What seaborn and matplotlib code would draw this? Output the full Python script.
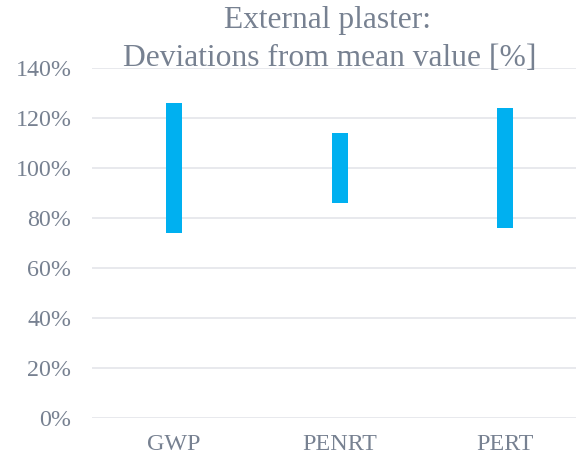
import matplotlib
matplotlib.use("Agg")
import matplotlib.pyplot as plt
import seaborn as sns
import numpy as np
import pandas as pd
from matplotlib.ticker import FuncFormatter

categories = ["GWP", "PENRT", "PERT"]
max_values = [1.26, 1.14, 1.24]
min_values = [0.74, 0.86, 0.76]
y_ticks = [0.0, 0.2, 0.4, 0.6, 0.8, 1.0, 1.2, 1.4]
title_lines = ["External plaster:", "Deviations from mean value [%]"]

sns.set_theme(style="white")
plt.rcParams['font.family'] = ['Liberation Serif', 'DejaVu Serif']

TEXT = "#778191"
GRID = "#e1e3e8"
BAR = "#00b0f0"

df = pd.DataFrame({
    "cat": categories,
    "height": np.array(max_values) - np.array(min_values),
    "bottom": min_values,
})

dpi = 72
fig = plt.figure(figsize=(576 / dpi, 457 / dpi), dpi=dpi)
W, H = 576, 457
left_px, right_px, top_px, bottom_px = 91.5, 576, 67.7, 417.7
ax = fig.add_axes([left_px / W, (H - bottom_px) / H,
                   (right_px - left_px) / W, (bottom_px - top_px) / H])

sns.barplot(data=df, x="cat", y="height", bottom=df["bottom"].values,
            color=BAR, saturation=1, width=0.097, ax=ax, zorder=3,
            linewidth=0)

ax.set_ylim(0, 1.4)
ax.set_xlim(-0.5, (right_px - 174) / 165.5)
ax.set_yticks(y_ticks)
ax.yaxis.set_major_formatter(FuncFormatter(lambda v, p: f"{v*100:.0f}%"))
ax.grid(axis="y", color=GRID, linewidth=1.5, zorder=0)
ax.grid(axis="x", visible=False)
for s in ax.spines.values():
    s.set_visible(False)
ax.set_xlabel("")
ax.set_ylabel("")
ax.tick_params(axis="y", length=0, pad=20, labelsize=24, labelcolor=TEXT)
ax.tick_params(axis="x", length=0, pad=16, labelsize=24, labelcolor=TEXT)

fig.text(327 / W, 1 - 28 / H, title_lines[0], ha="center", va="baseline",
         fontsize=31.5, color=TEXT)
fig.text(330 / W, 1 - 65.5 / H, title_lines[1], ha="center", va="baseline",
         fontsize=31.5, color=TEXT)

fig.savefig("out.png", dpi=dpi, facecolor="white")
